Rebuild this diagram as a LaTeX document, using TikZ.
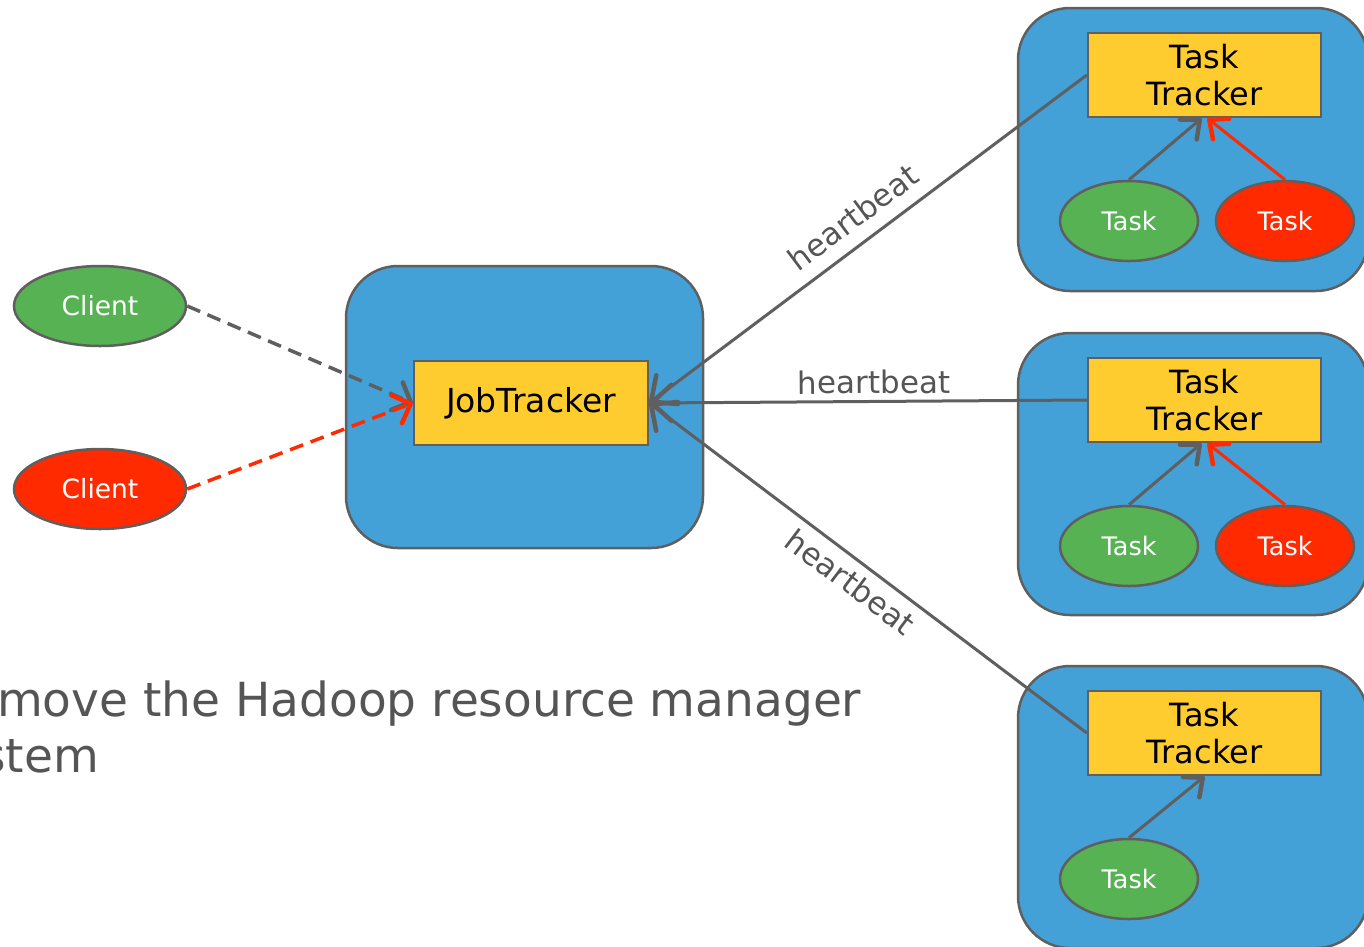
\documentclass[tikz,border=0pt]{standalone}
\usepackage{fontspec}
\setmainfont{DejaVu Sans}
\usetikzlibrary{shapes.geometric,arrows.meta}

\definecolor{hostblue}{HTML}{43A1D7}
\definecolor{trackyellow}{HTML}{FECC2F}
\definecolor{okgreen}{HTML}{56B253}
\definecolor{failred}{HTML}{FF2A00}
\definecolor{edgegray}{HTML}{5F5F5F}
\definecolor{textgray}{HTML}{555555}

\tikzset{
  host/.style={draw=edgegray, line width=2.5pt, fill=hostblue, rounded corners=52pt, inner sep=0pt},
  tracker/.style={draw=edgegray, line width=2.5pt, fill=trackyellow, inner sep=0pt,
    minimum width=233pt, minimum height=84pt, align=center,
    font=\fontsize{32}{37}\selectfont, text=black},
  client/.style={ellipse, draw=edgegray, line width=2.5pt, inner sep=0pt,
    minimum width=172pt, minimum height=80pt, text=white, font=\fontsize{26.5}{30}\selectfont},
  task/.style={ellipse, draw=edgegray, line width=2.5pt, inner sep=0pt,
    minimum width=138pt, minimum height=80pt, text=white, font=\fontsize{25.5}{28}\selectfont},
  beat/.style={draw=edgegray, line width=3pt,
    {Straight Barb[length=20pt,width=36pt,line width=4.5pt,round]}-},
  submit/.style={line width=3.5pt, dash pattern=on 14pt off 8pt,
    -{Straight Barb[length=15pt,width=30pt,line width=4.5pt,round]}},
  report/.style={line width=3pt, -{Straight Barb[length=15pt,width=26pt,line width=4.5pt,round]}},
  beatlabel/.style={text=textgray, font=\fontsize{31}{36}\selectfont, inner sep=0pt, sloped},
  caption/.style={anchor=base west, inner sep=0pt, text=textgray, font=\fontsize{47}{56}\selectfont},
}

\begin{document}
\begin{tikzpicture}[x=1pt, y=-1pt]
\useasboundingbox (0,0) rectangle (1364,946);
\clip (0,0) rectangle (1364,946);

% master host
\node[host, minimum width=357pt, minimum height=282pt] (jthost) at (524.5,407) {};
\node[tracker, minimum width=234pt, font=\fontsize{33}{37}\selectfont] (jt) at (531,403) {JobTracker};

% clients
\node[client, fill=okgreen] (cl1) at (100,306) {Client};
\node[client, fill=failred] (cl2) at (100,489) {Client};

% worker hosts
\node[host, minimum width=350pt, minimum height=283pt] (h1) at (1193,149.5) {};
\node[host, minimum width=350pt, minimum height=282pt] (h2) at (1193,474) {};
\node[host, minimum width=350pt, minimum height=282pt] (h3) at (1193,807) {};

\node[tracker] (tt1) at (1204.5,75) {Task\\Tracker};
\node[tracker] (tt2) at (1204.5,400) {Task\\Tracker};
\node[tracker] (tt3) at (1204.5,733) {Task\\Tracker};

\node[task, fill=okgreen] (t1a) at (1129,221) {Task};
\node[task, fill=failred] (t1b) at (1285,221) {Task};
\node[task, fill=okgreen] (t2a) at (1129,546) {Task};
\node[task, fill=failred] (t2b) at (1285,546) {Task};
\node[task, fill=okgreen] (t3a) at (1129,879) {Task};

% task reports
\draw[report, edgegray] (t1a.north) -- ([xshift=-3pt]tt1.south);
\draw[report, failred] (t1b.north) -- ([xshift=3pt]tt1.south);
\draw[report, edgegray] (t2a.north) -- ([xshift=-3pt]tt2.south);
\draw[report, failred] (t2b.north) -- ([xshift=3pt]tt2.south);
\draw[report, edgegray] (t3a.north) -- (tt3.south);

% heartbeats
\draw[beat] (jt.east) -- node[beatlabel, pos=0.502, above=13pt] {heartbeat} (tt1.west);
\draw[beat] (jt.east) -- node[beatlabel, pos=0.514, above=6pt] {heartbeat} (tt2.west);
\draw[beat] (jt.east) -- node[beatlabel, pos=0.49, below=8pt] {heartbeat} (tt3.west);

% job submissions
\draw[submit, edgegray] (cl1.east) -- (jt.west);
\draw[submit, failred] (cl2.east) -- (jt.west);

% caption text
\node[caption] (cap1) at (-3,716) {move the Hadoop resource manager};
\node[caption, anchor=base east] (cap2) at (99,772) {stem};
\end{tikzpicture}
\end{document}
